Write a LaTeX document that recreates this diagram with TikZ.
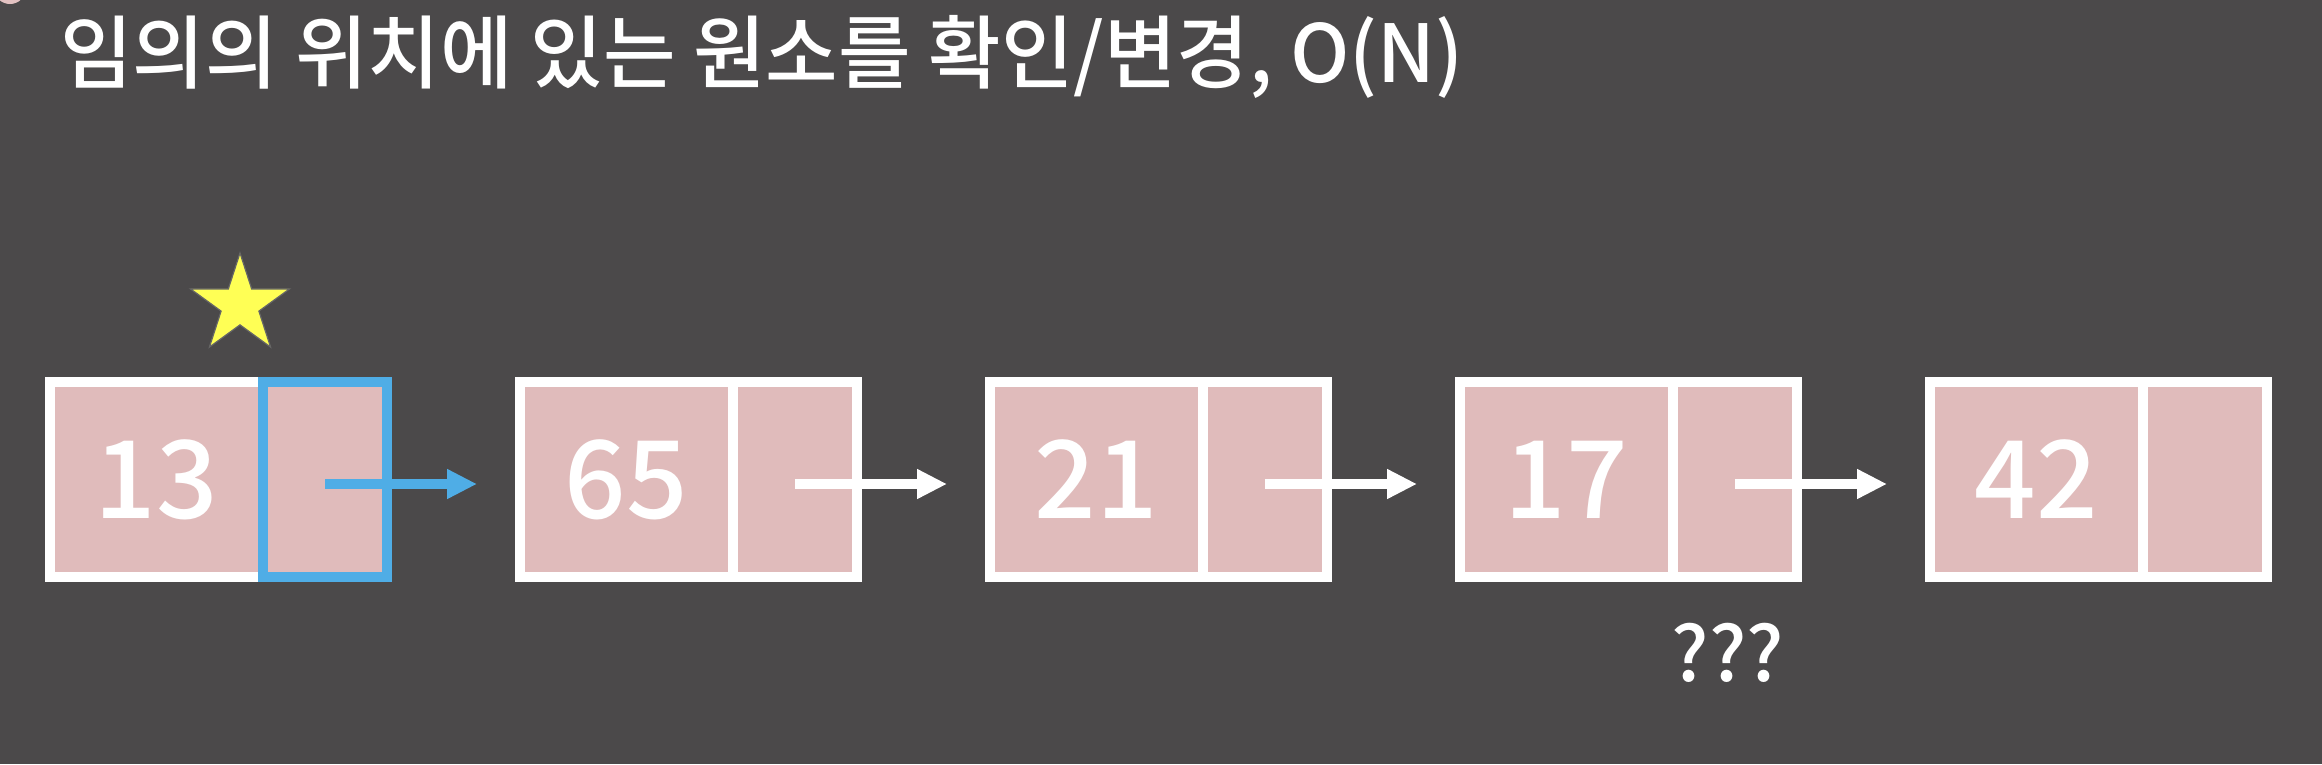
\documentclass[tikz,border=0pt]{standalone}
\usepackage{fontspec}
\newfontfamily\krfont{Noto Sans CJK KR Medium}
\usetikzlibrary{arrows.meta,shapes.geometric}
\definecolor{bgc}{HTML}{4B494A}
\definecolor{cellpink}{HTML}{E0BBBB}
\definecolor{selblue}{HTML}{4FADE6}
\definecolor{staryel}{HTML}{FFFF55}
\tikzset{
  cellbase/.style={rectangle, draw=white, fill=cellpink, line width=10pt, inner sep=0pt, outer sep=0pt, minimum height=195pt},
  datacell/.style={cellbase, minimum width=213pt, text=white, font=\krfont\fontsize{108}{108}\selectfont},
  ptrcell/.style={cellbase, minimum width=124pt},
  ptrarrow/.style={line width=10pt, draw=white, -{Triangle[length=30pt,width=28pt]}},
  selarrow/.style={ptrarrow, draw=selblue},
}
\begin{document}
\begin{tikzpicture}[x=1pt,y=-1pt]
\fill[bgc] (0,0) rectangle (2322,764);
\useasboundingbox (0,0) rectangle (2322,764);
\fill[cellpink!90!white] (10,-12) circle (16);
\node[anchor=west, text=white, font=\krfont\fontsize{80}{80}\selectfont, inner sep=0pt, xscale=0.985] (title) at (60,57) {임의의 위치에 있는 원소를 확인/변경, O(N)};
% nodes
\node[datacell] (d1) at (156.5,479.5) {13};
\node[ptrcell, draw=selblue] (p1) at (325,479.5) {};
\node[datacell] (d2) at (626.5,479.5) {65};
\node[ptrcell] (p2) at (795,479.5) {};
\node[datacell] (d3) at (1096.5,479.5) {21};
\node[ptrcell] (p3) at (1265,479.5) {};
\node[datacell] (d4) at (1566.5,479.5) {17};
\node[ptrcell] (p4) at (1735,479.5) {};
\node[datacell] (d5) at (2036.5,479.5) {42};
\node[ptrcell] (p5) at (2205,479.5) {};
% arrows
\draw[selarrow] ([yshift=-4.5pt]p1.center) -- ([xshift=-43pt,yshift=-4.5pt]d2.west);
\draw[ptrarrow] ([yshift=-4.5pt]p2.center) -- ([xshift=-43pt,yshift=-4.5pt]d3.west);
\draw[ptrarrow] ([yshift=-4.5pt]p3.center) -- ([xshift=-43pt,yshift=-4.5pt]d4.west);
\draw[ptrarrow] ([yshift=-4.5pt]p4.center) -- ([xshift=-43pt,yshift=-4.5pt]d5.west);
% star
\node[star, star points=5, star point ratio=2.618, minimum size=104pt, inner sep=0pt, fill=staryel, draw=black!60, line width=1.2pt] (st) at (240,305) {};
% question marks
\node[text=white, font=\krfont\fontsize{76}{76}\selectfont, inner sep=0pt] (q) at (1728,653) {???};
\end{tikzpicture}
\end{document}
